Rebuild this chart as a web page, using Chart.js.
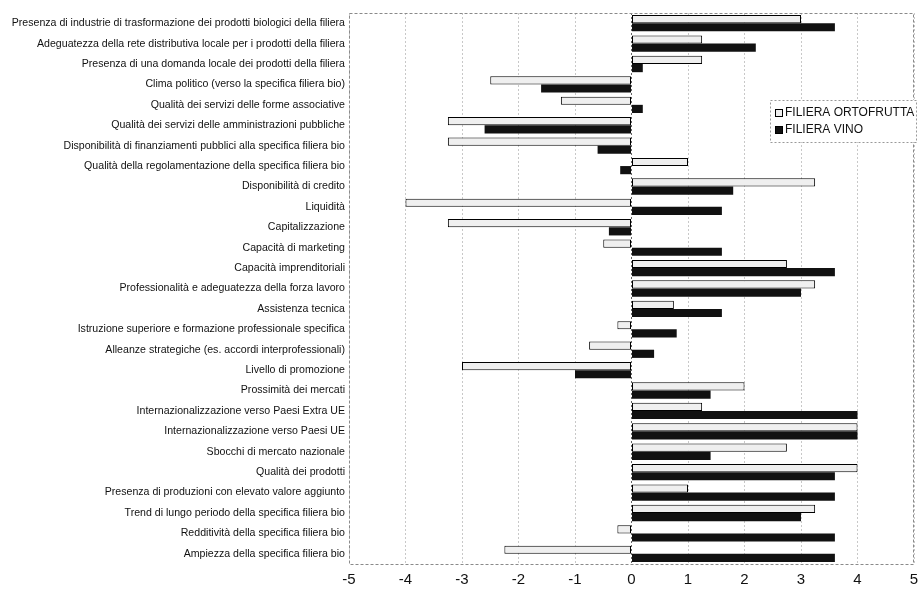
<!DOCTYPE html>
<html>
<head>
<meta charset="utf-8">
<script src="https://cdn.jsdelivr.net/npm/chart.js@4/dist/chart.umd.min.js"></script>
<style>
  html, body { margin: 0; padding: 0; background: #fff; }
  #wrap { width: 918px; height: 595px; }
</style>
</head>
<body>
<div id="wrap"><canvas id="chart" width="918" height="595"></canvas></div>
<script>
const categories = [
  'Presenza di industrie di trasformazione dei prodotti biologici della filiera',
  'Adeguatezza della rete distributiva locale per i prodotti della filiera',
  'Presenza di una domanda locale dei prodotti della filiera',
  'Clima politico (verso la specifica filiera bio)',
  'Qualità dei servizi delle forme associative',
  'Qualità dei servizi delle amministrazioni pubbliche',
  'Disponibilità di finanziamenti pubblici alla specifica filiera bio',
  'Qualità della regolamentazione della specifica filiera bio',
  'Disponibilità di credito',
  'Liquidità',
  'Capitalizzazione',
  'Capacità di marketing',
  'Capacità imprenditoriali',
  'Professionalità e adeguatezza della forza lavoro',
  'Assistenza tecnica',
  'Istruzione superiore e formazione professionale specifica',
  'Alleanze strategiche (es. accordi interprofessionali)',
  'Livello di promozione',
  'Prossimità dei mercati',
  'Internazionalizzazione verso Paesi Extra UE',
  'Internazionalizzazione verso Paesi UE',
  'Sbocchi di mercato nazionale',
  'Qualità dei prodotti',
  'Presenza di produzioni con elevato valore aggiunto',
  'Trend di lungo periodo della specifica filiera bio',
  'Redditività della specifica filiera bio',
  'Ampiezza della specifica filiera bio'
];

const ortofrutta = [3.0, 1.25, 1.25, -2.5, -1.25, -3.25, -3.25, 1.0, 3.25, -4.0, -3.25, -0.5, 2.75, 3.25,
  0.75, -0.25, -0.75, -3.0, 2.0, 1.25, 4.0, 2.75, 4.0, 1.0, 3.25, -0.25, -2.25];
const vino = [3.6, 2.2, 0.2, -1.6, 0.2, -2.6, -0.6, -0.2, 1.8, 1.6, -0.4, 1.6, 3.6, 3.0,
  1.6, 0.8, 0.4, -1.0, 1.4, 4.0, 4.0, 1.4, 3.6, 3.6, 3.0, 3.6, 3.6];

const xMin = -5;
const xMax = 5;

// dashed frame around the plot + legend box drawn inside it
const framePlugin = {
  id: 'frame',
  beforeDatasetsDraw(chart) {
    const { ctx, chartArea: a } = chart;
    ctx.save();
    ctx.strokeStyle = '#8a8a8a';
    ctx.lineWidth = 1;
    ctx.setLineDash([3, 2]);
    ctx.strokeRect(a.left + 0.5, a.top + 0.5, a.right - a.left - 1, a.bottom - a.top);
    ctx.restore();
  },
  afterDraw(chart) {
    const { ctx } = chart;
    const x = 770, y = 100, w = 146, h = 42;
    ctx.save();
    ctx.fillStyle = '#fff';
    ctx.fillRect(x, y, w, h);
    ctx.strokeStyle = '#999';
    ctx.setLineDash([2, 2]);
    ctx.strokeRect(x + 0.5, y + 0.5, w, h);
    ctx.setLineDash([]);
    ctx.font = '12px "Liberation Sans", Arial, sans-serif';
    ctx.textBaseline = 'middle';
    chart.data.datasets.forEach((ds, i) => {
      const ly = y + 13 + i * 17;
      ctx.fillStyle = ds.backgroundColor;
      ctx.fillRect(x + 5, ly - 4, 8, 8);
      ctx.strokeStyle = '#000';
      ctx.lineWidth = 1;
      ctx.strokeRect(x + 5.5, ly - 3.5, 7, 7);
      ctx.fillStyle = '#111';
      ctx.fillText(ds.label, x + 15, ly);
    });
    ctx.restore();
  }
};

new Chart(document.getElementById('chart'), {
  type: 'bar',
  data: {
    labels: categories,
    datasets: [
      {
        label: 'FILIERA ORTOFRUTTA',
        data: ortofrutta,
        backgroundColor: '#efefef',
        borderColor: '#000',
        borderWidth: 1,
        borderSkipped: false,
        categoryPercentage: 0.8,
        barPercentage: 1.0
      },
      {
        label: 'FILIERA VINO',
        data: vino,
        backgroundColor: '#111111',
        borderColor: '#000',
        borderWidth: 0,
        categoryPercentage: 0.8,
        barPercentage: 1.0
      }
    ]
  },
  options: {
    indexAxis: 'y',
    responsive: false,
    animation: false,
    layout: { padding: { left: 0, right: 4, top: 13, bottom: 0 } },
    plugins: {
      legend: { display: false },
      tooltip: { enabled: false }
    },
    scales: {
      x: {
        min: xMin,
        max: xMax,
        ticks: {
          stepSize: 1,
          color: '#111',
          font: { family: '"Liberation Sans", Arial, sans-serif', size: 15 },
          padding: 7
        },
        grid: {
          color: ctx => ctx.tick && ctx.tick.value === 0 ? '#666' : '#c8c8c8',
          drawTicks: false
        },
        border: { display: false, dash: [2, 2] },
        afterFit: scale => {
          scale.height = 31;
          scale.paddingLeft = 0;
          scale.paddingRight = 0;
        }
      },
      y: {
        ticks: {
          color: '#111',
          autoSkip: false,
          font: { family: '"Liberation Sans", Arial, sans-serif', size: 10.6 },
          padding: 4
        },
        grid: { display: false, drawTicks: false },
        border: { display: false },
        afterFit: scale => { scale.width = 349; }
      }
    }
  },
  plugins: [framePlugin]
});
</script>
</body>
</html>
